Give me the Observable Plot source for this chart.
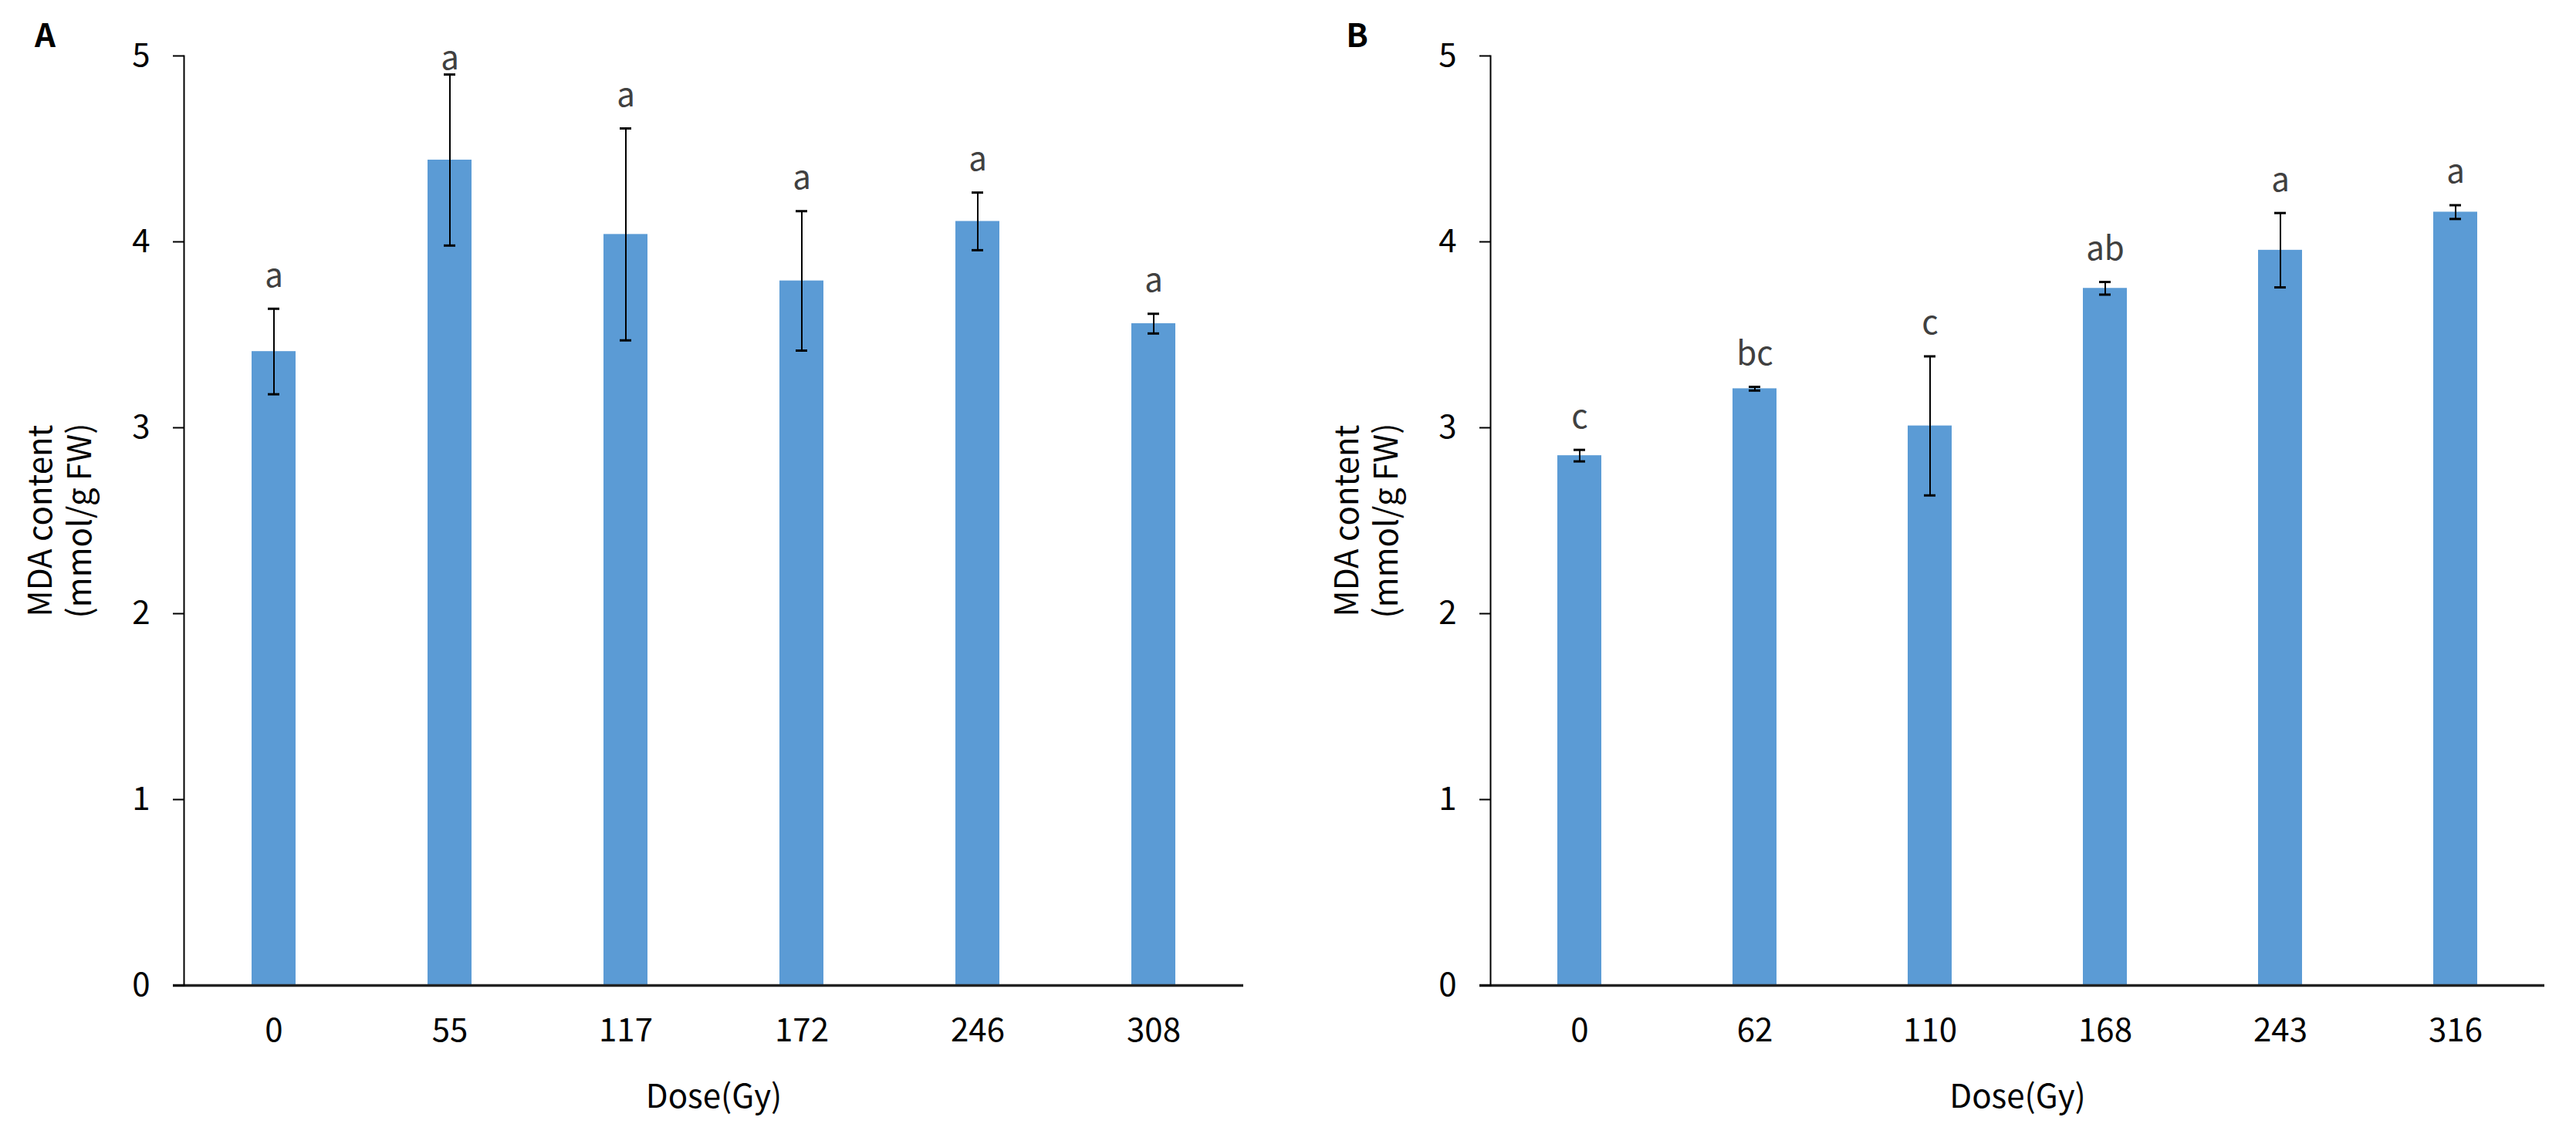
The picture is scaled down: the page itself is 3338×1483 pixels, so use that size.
<!DOCTYPE html>
<html><head><meta charset="utf-8">
<script src="https://cdn.jsdelivr.net/npm/d3@7"></script>
<script src="https://cdn.jsdelivr.net/npm/@observablehq/plot@0.6"></script>
<style>
body{margin:0;background:#fff;}
#wrap{display:flex;width:3338px;height:1483px;background:#fff;}
</style>
</head><body><div id="wrap"></div>
<script>
// Panel A
const dosesA = ["0", "55", "117", "172", "246", "308"];
const meansA = [3.41, 4.44, 4.04, 3.79, 4.11, 3.56];
const errorsA = [0.23, 0.46, 0.57, 0.375, 0.155, 0.053];
const lettersA = ["a", "a", "a", "a", "a", "a"];
// Panel B
const dosesB = ["0", "62", "110", "168", "243", "316"];
const meansB = [2.85, 3.21, 3.01, 3.75, 3.955, 4.16];
const errorsB = [0.031, 0.01, 0.374, 0.034, 0.2, 0.037];
const lettersB = ["c", "bc", "c", "ab", "a", "a"];
// Axes
const yTicks = [0, 1, 2, 3, 4, 5];
const yDomain = [0, 5];
const panelLabels = ["A", "B"];
const xTitle = "Dose(Gy)";
const yTitle = "MDA content\n(mmol/g FW)";

const FONT = "'Noto Sans CJK KR', 'Noto Sans', sans-serif";
const FS = 42;

function panel(doses, means, errors, letters, label, ml, mr, labelDx) {
  const data = doses.map((d, i) => ({dose: d, mean: means[i], err: errors[i], letter: letters[i]}));
  const lo = d => d.mean - d.err;
  const hi = d => d.mean + d.err;
  return Plot.plot({
    width: 1669,
    height: 1483,
    marginLeft: ml,
    marginRight: mr,
    marginTop: 72,
    marginBottom: 206,
    style: {fontFamily: FONT, fontSize: FS + "px", color: "#000", background: "#fff"},
    x: {domain: doses, paddingInner: 0.75, paddingOuter: 0.375},
    y: {domain: yDomain},
    marks: [
      Plot.barY(data, {x: "dose", y: "mean", fill: "#5B9BD5"}),
      Plot.ruleX(data, {x: "dose", y1: lo, y2: hi, stroke: "#000", strokeWidth: 2}),
      Plot.tickY(data, {x: "dose", y: lo, stroke: "#000", strokeWidth: 3, insetLeft: 21, insetRight: 21}),
      Plot.tickY(data, {x: "dose", y: hi, stroke: "#000", strokeWidth: 3, insetLeft: 21, insetRight: 21}),
      Plot.text(data, {x: "dose", y: d => Math.min(hi(d), 4.81), text: "letter", dy: -42,
        fill: "#404040", fontSize: FS, textAnchor: "middle", lineAnchor: "middle"}),
      Plot.ruleY([0], {stroke: "#222", strokeWidth: 3.5, insetLeft: -14}),
      Plot.frame({anchor: "left", stroke: "#000", strokeWidth: 2}),
      Plot.axisY({ticks: yTicks, tickSize: 14, tickPadding: 30, strokeWidth: 2, fontSize: FS, label: null, tickFormat: d3.format("d")}),
      Plot.axisX({tickSize: 0, tickPadding: 43, fontSize: FS, label: null}),
      Plot.text([xTitle], {text: d => d, frameAnchor: "bottom", dy: 145, fontSize: FS, lineAnchor: "middle", textAnchor: "middle"}),
      Plot.text([yTitle], {text: d => d, frameAnchor: "left", dx: -162, rotate: -90, fontSize: FS, lineHeight: 1.2, lineAnchor: "middle", textAnchor: "middle"}),
      Plot.text([label], {text: d => d, frameAnchor: "top-left", dx: labelDx, dy: -25, fontSize: 42, fontWeight: "bold", lineAnchor: "middle", textAnchor: "middle"})
    ]
  });
}

const wrap = document.getElementById("wrap");
wrap.appendChild(panel(dosesA, meansA, errorsA, lettersA, panelLabels[0], 238, 58, -180));
wrap.appendChild(panel(dosesB, meansB, errorsB, lettersB, panelLabels[1], 262, 41, -173));
</script>
</body></html>
